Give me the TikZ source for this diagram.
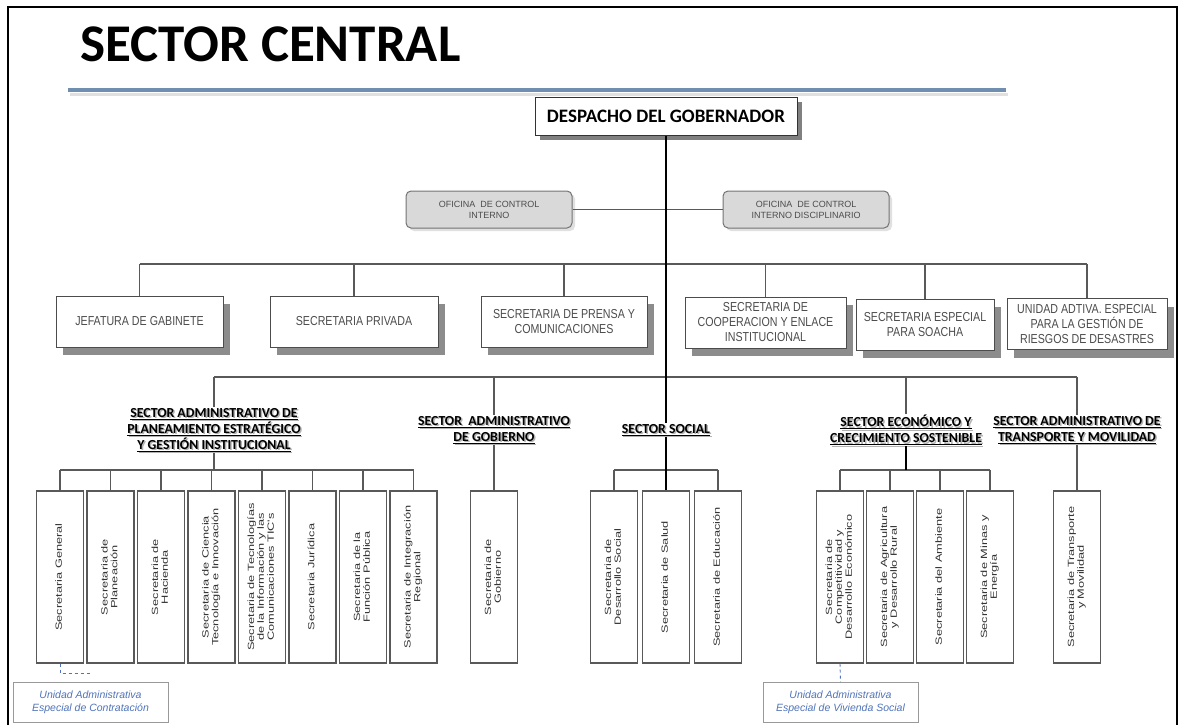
\documentclass[tikz,border=0pt]{standalone}
\usepackage{fontspec}
\usepackage{graphicx}
\usepackage{tikz}
\usetikzlibrary{positioning, calc, shadows}
\newfontfamily\calfont{Carlito}
\newfontfamily\narrowfont[FakeStretch=0.82]{Liberation Sans}
\newfontfamily\tallfont[FakeStretch=1.42]{Liberation Sans}
\newfontfamily\plainfont{Liberation Sans}
\definecolor{rulebl}{RGB}{112,142,175}
\definecolor{unitbl}{RGB}{80,115,185}
\newcommand{\vt}[1]{\rotatebox{90}{\begin{tabular}{@{}c@{}}#1\end{tabular}}}
\newcommand{\sectorlabel}[3]{%
  \node[sectorlbl, text=black!30] at ($(#2)+(1.5,1.5)$) {#3};
  \node[sectorlbl] (#1) at (#2) {#3};}

\begin{document}
\begin{tikzpicture}[x=1pt, y=-1pt,
  conn/.style={draw=black!65, line width=1.2pt},
  mainln/.style={draw=black, line width=1.8pt},
  udash/.style={draw=unitbl, line width=0.9pt, dash pattern=on 3pt off 3pt},
  topbox/.style={draw=black!70, line width=1pt, fill=white, align=center,
    minimum height=51pt, inner sep=2pt, text=black!70,
    font=\narrowfont\fontsize{13}{15}\selectfont,
    drop shadow={shadow xshift=7pt, shadow yshift=-8pt, opacity=1, fill=black!45}},
  ofibox/.style={draw=black!55, line width=1pt, fill=black!15, rounded corners=5pt,
    align=center, minimum width=166pt, minimum height=37pt, text=black!70,
    font=\plainfont\fontsize{9}{11}\selectfont,
    drop shadow={shadow xshift=3pt, shadow yshift=-3pt, opacity=1, fill=black!12}},
  vbox/.style={draw=black!65, line width=1.2pt, fill=white, minimum width=47pt,
    minimum height=172pt, inner sep=0pt, text=black!80,
    font=\tallfont\fontsize{9}{9.8}\selectfont},
  sectorlbl/.style={align=center, inner sep=1pt,
    font=\calfont\bfseries\fontsize{13.8}{16}\selectfont},
  ubox/.style={draw=black!40, line width=0.8pt, fill=white, minimum width=155pt,
    minimum height=40pt, align=center, text=unitbl,
    font=\plainfont\itshape\fontsize{10.5}{13}\selectfont}]
\useasboundingbox (0,0) rectangle (1182,725);

% marco y titulo
\draw[line width=1.8pt] (8,725) -- (8,7) -- (1177,7) -- (1177,725);
\node[anchor=base west, inner sep=0,
  font=\calfont\bfseries\fontsize{53}{60}\selectfont] (title) at (80,61) {SECTOR CENTRAL};
\draw[black!12, line width=3pt] (70,94) -- (1008,94);
\draw[rulebl, line width=3.5pt] (68,90) -- (1006,90);

% despacho y oficinas
\node[draw=black!80, line width=1pt, fill=white, minimum width=262pt, minimum height=38pt,
  font=\calfont\bfseries\fontsize{19}{21}\selectfont,
  drop shadow={shadow xshift=5pt, shadow yshift=-5pt, opacity=1, fill=black!50}]
  (desp) at (666,116) {DESPACHO DEL GOBERNADOR};
\node[ofibox] (oci) at (489,209.5) {OFICINA\ \ DE CONTROL\\INTERNO};
\node[ofibox] (ocd) at (806,209.5) {OFICINA\ \ DE CONTROL\\INTERNO DISCIPLINARIO};

% primer nivel
\node[topbox, minimum width=167pt] (jef) at (139.5,321.5) {JEFATURA DE GABINETE};
\node[topbox, minimum width=168pt] (priv) at (354,321.5) {SECRETARIA PRIVADA};
\node[topbox, minimum width=166pt] (pren) at (564,321.5) {SECRETARIA DE PRENSA Y\\COMUNICACIONES};
\node[topbox, minimum width=161pt] (coop) at (765.5,322.5) {SECRETARIA DE\\COOPERACION Y ENLACE\\INSTITUCIONAL};
\node[topbox, minimum width=138pt] (soa) at (925,324.5) {SECRETARIA ESPECIAL\\PARA SOACHA};
\node[topbox, minimum width=160pt] (unid) at (1087,324) {UNIDAD ADTIVA. ESPECIAL\\PARA LA GESTIÓN DE\\RIESGOS DE DESASTRES};

% sectores
\sectorlabel{splan}{214,430}{\underline{SECTOR ADMINISTRATIVO DE}\\\underline{PLANEAMIENTO ESTRATÉGICO}\\\underline{Y GESTIÓN INSTITUCIONAL}}
\sectorlabel{sgob}{494,430}{\underline{SECTOR\ \ ADMINISTRATIVO}\\\underline{DE GOBIERNO}}
\sectorlabel{ssoc}{666,430}{\underline{SECTOR SOCIAL}}
\sectorlabel{seco}{906,430}{\underline{SECTOR ECONÓMICO Y}\\\underline{CRECIMIENTO SOSTENIBLE}}
\sectorlabel{stra}{1077,430}{\underline{SECTOR ADMINISTRATIVO DE}\\\underline{TRANSPORTE Y MOVILIDAD}}

% secretarias
\foreach \lbl [count=\i from 0] in {{Secretaria General}, {Secretaria de\\Planeación},
    {Secretaria de\\Hacienda}, {Secretaria de Ciencia\\Tecnología e Innovación},
    {Secretaria de Tecnologías\\de la Información y las\\Comunicaciones TIC's},
    {Secretaria Jurídica}, {Secretaria de la\\Función Pública},
    {Secretaria de Integración\\Regional}}
  \node[vbox] (pl\i) at ({60+50.5*\i},577) {\vt{\lbl}};
\node[vbox] (gob) at (494,577) {\vt{Secretaria de\\Gobierno}};
\foreach \lbl [count=\i from 0] in {{Secretaria de\\Desarrollo Social},
    {Secretaria de Salud}, {Secretaria de Educación}}
  \node[vbox] (so\i) at ({614+52*\i},577) {\vt{\lbl}};
\foreach \lbl [count=\i from 0] in {{Secretaria de\\Competitividad y\\Desarrollo Económico},
    {Secretaria de Agricultura\\y Desarrollo Rural}, {Secretaria del Ambiente},
    {Secretaria de Minas y\\Energía}}
  \node[vbox] (ec\i) at ({840+50*\i},577) {\vt{\lbl}};
\node[vbox] (tra) at (1077,577) {\vt{Secretaria de Transporte\\y Movilidad}};

% unidades
\node[ubox] (ucon) at (90.5,702.5) {Unidad Administrativa\\Especial de Contratación};
\node[ubox] (uviv) at (840.5,702.5) {Unidad Administrativa\\Especial de Vivienda Social};
\coordinate (ucend) at (90,673);

% conectores
\coordinate (topbar) at (0,264);
\coordinate (secbar) at (0,377);
\coordinate (grpbar) at (0,470);
\draw[conn] (oci.east) -- (ocd.west);
\draw[conn] (jef.north |- topbar) -- (unid.north |- topbar);
\foreach \n in {jef, priv, pren, coop, soa, unid}
  \draw[conn] (\n.north) -- (\n.north |- topbar);
\draw[conn] (splan.north |- secbar) -- (stra.north |- secbar);
\foreach \n in {splan, sgob, seco, stra}
  \draw[conn] (\n.north |- secbar) -- (\n.north);
\draw[mainln] (desp.south) -- (ssoc.north);
% grupos
\draw[conn] (pl0.north |- grpbar) -- (pl7.north |- grpbar);
\draw[conn] (splan.south) -- (splan.south |- grpbar);
\foreach \i in {0,...,7}
  \draw[conn] (pl\i.north) -- (pl\i.north |- grpbar);
\draw[conn] (sgob.south) -- (gob.north);
\draw[conn] (so0.north |- grpbar) -- (so2.north |- grpbar);
\draw[mainln] (ssoc.south) -- (so1.north);
\foreach \i in {0,2}
  \draw[conn] (so\i.north) -- (so\i.north |- grpbar);
\draw[conn] (ec0.north |- grpbar) -- (ec3.north |- grpbar);
\draw[mainln] (seco.south) -- (seco.south |- grpbar);
\foreach \i in {0,...,3}
  \draw[conn] (ec\i.north) -- (ec\i.north |- grpbar);
\draw[conn] (stra.south) -- (tra.north);
\draw[udash] (pl0.south) |- (ucend);
\draw[udash] (ec0.south) -- (uviv.north);
\end{tikzpicture}
\end{document}
